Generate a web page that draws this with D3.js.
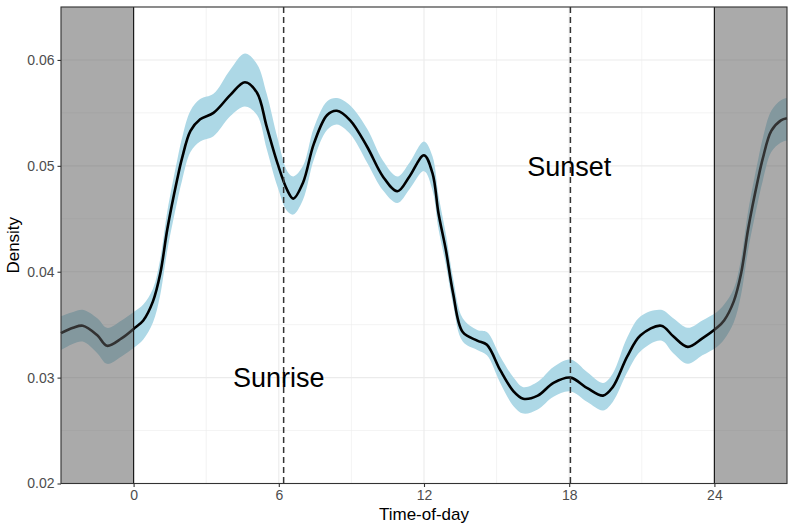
<!DOCTYPE html>
<html>
<head>
<meta charset="utf-8">
<script src="https://cdn.jsdelivr.net/npm/d3@7"></script>
<style>
  body { margin: 0; background: #fff; }
  svg { display: block; font-family: "Liberation Sans", Arial, sans-serif; }
</style>
</head>
<body>
<svg id="chart" width="794" height="526"></svg>
<script>
// values
var hours = [-3, -2.5, -2.1, -1.5, -1.1, -0.5, 0, 0.4, 0.8, 1.1, 1.4, 1.8, 2.0, 2.35, 2.75, 3.3, 4.0, 4.6, 5.1, 5.5,
  5.95, 6.35, 6.6, 7.0, 7.45, 8.0, 8.4, 8.95, 9.65, 10.3, 10.9, 11.4, 12.0, 12.35, 12.6, 12.9, 13.2, 13.6, 14.2, 14.6,
  15.15, 15.7, 16.1, 16.7, 17.35, 18.05, 18.75, 19.4, 19.8, 20.4, 20.95, 21.8, 22.3, 22.9, 23.5, 24.1, 24.4, 24.8, 25.1, 25.4,
  25.8, 26.0, 26.35, 26.75, 27.0];
var density = [0.0342, 0.0347, 0.0349, 0.0340, 0.0330, 0.0337, 0.0346, 0.0354, 0.0372, 0.0398, 0.0441, 0.0487, 0.0507, 0.0533, 0.0544, 0.0550, 0.0567, 0.0579, 0.0569, 0.0537,
  0.0502, 0.0477, 0.0469, 0.0484, 0.0521, 0.0548, 0.0552, 0.0543, 0.0518, 0.0490, 0.0476, 0.0490, 0.0510, 0.0493, 0.0455, 0.0421, 0.0380, 0.0343, 0.0335, 0.0331,
  0.0307, 0.0287, 0.0280, 0.0283, 0.0295, 0.0300, 0.0290, 0.0283, 0.0291, 0.0320, 0.0340, 0.0349, 0.0339, 0.0329, 0.0337, 0.0347, 0.0354, 0.0372, 0.0398, 0.0441,
  0.0487, 0.0507, 0.0533, 0.0543, 0.0545];
var lower = [0.0326, 0.0332, 0.0334, 0.0323, 0.0313, 0.0320, 0.0328, 0.0336, 0.0352, 0.0378, 0.0421, 0.0466, 0.0486, 0.0513, 0.0523, 0.0528, 0.0547, 0.0556, 0.0548, 0.0516,
  0.0480, 0.0457, 0.0454, 0.0468, 0.0506, 0.0534, 0.0539, 0.0530, 0.0503, 0.0477, 0.0465, 0.0478, 0.0495, 0.0477, 0.0440, 0.0407, 0.0369, 0.0334, 0.0326, 0.0321,
  0.0295, 0.0273, 0.0266, 0.0270, 0.0282, 0.0287, 0.0277, 0.0269, 0.0277, 0.0305, 0.0325, 0.0335, 0.0323, 0.0313, 0.0321, 0.0329, 0.0336, 0.0352, 0.0378, 0.0421,
  0.0466, 0.0486, 0.0513, 0.0522, 0.0524];
var upper = [0.0358, 0.0362, 0.0364, 0.0356, 0.0347, 0.0354, 0.0362, 0.0369, 0.0384, 0.0412, 0.0458, 0.0505, 0.0526, 0.0552, 0.0563, 0.0568, 0.0591, 0.0606, 0.0596, 0.0568,
  0.0526, 0.0495, 0.0490, 0.0500, 0.0536, 0.0561, 0.0564, 0.0557, 0.0535, 0.0505, 0.0490, 0.0503, 0.0523, 0.0509, 0.0472, 0.0436, 0.0394, 0.0356, 0.0345, 0.0343,
  0.0320, 0.0300, 0.0291, 0.0296, 0.0310, 0.0317, 0.0305, 0.0295, 0.0304, 0.0338, 0.0358, 0.0364, 0.0356, 0.0347, 0.0354, 0.0362, 0.0369, 0.0384, 0.0412, 0.0458,
  0.0505, 0.0526, 0.0552, 0.0562, 0.0564];

var xTicks = [0, 6, 12, 18, 24];
var xMinor = [-3, 3, 9, 15, 21, 27];
var yTicks = [0.02, 0.03, 0.04, 0.05, 0.06];
var yMinor = [0.025, 0.035, 0.045, 0.055, 0.065];
var nightBands = [[-3, 0], [24, 27]];
var dayEdges = [0, 24];
var sunLines = [6.2, 18.05];
var labels = [{ text: 'Sunrise', x: 6, y: 0.03 }, { text: 'Sunset', x: 18, y: 0.05 }];

(function () {
  var rows = hours.map(function (h, i) {
    return { h: h, d: density[i], lo: lower[i], hi: upper[i] };
  });

  var svg = d3.select('#chart');
  var pL = 61, pR = 787, pT = 7, pB = 483.5;

  var x = d3.scaleLinear().domain([-3, 27]).range([pL, pR]);
  var y = d3.scaleLinear().domain([0.02, 0.065]).range([pB, pT]);

  var panel = svg.append('g');

  // grid
  panel.selectAll('line.minor-x').data(xMinor).enter().append('line')
    .attr('x1', x).attr('x2', x).attr('y1', pT).attr('y2', pB)
    .attr('stroke', '#ebebeb').attr('stroke-width', 0.6);
  panel.selectAll('line.minor-y').data(yMinor).enter().append('line')
    .attr('x1', pL).attr('x2', pR).attr('y1', y).attr('y2', y)
    .attr('stroke', '#ebebeb').attr('stroke-width', 0.6);
  panel.selectAll('line.major-x').data(xTicks).enter().append('line')
    .attr('x1', x).attr('x2', x).attr('y1', pT).attr('y2', pB)
    .attr('stroke', '#ebebeb').attr('stroke-width', 1.1);
  panel.selectAll('line.major-y').data(yTicks).enter().append('line')
    .attr('x1', pL).attr('x2', pR).attr('y1', y).attr('y2', y)
    .attr('stroke', '#ebebeb').attr('stroke-width', 1.1);

  // ribbon + line
  var curve = d3.curveCatmullRom;
  panel.append('path').datum(rows)
    .attr('fill', '#add8e6')
    .attr('d', d3.area().curve(curve)
      .x(function (d) { return x(d.h); })
      .y0(function (d) { return y(d.lo); })
      .y1(function (d) { return y(d.hi); }));

  panel.append('path').datum(rows)
    .attr('fill', 'none').attr('stroke', '#000').attr('stroke-width', 2.6)
    .attr('d', d3.line().curve(curve)
      .x(function (d) { return x(d.h); })
      .y(function (d) { return y(d.d); }));

  // sunrise / sunset
  panel.selectAll('line.sun').data(sunLines).enter().append('line')
    .attr('x1', x).attr('x2', x).attr('y1', pT).attr('y2', pB)
    .attr('stroke', '#333').attr('stroke-width', 1.5).attr('stroke-dasharray', '6,4');

  // night shading on top
  panel.selectAll('rect.night').data(nightBands).enter().append('rect')
    .attr('x', function (d) { return x(d[0]); })
    .attr('width', function (d) { return x(d[1]) - x(d[0]); })
    .attr('y', pT).attr('height', pB - pT)
    .attr('fill', '#5f5f5f').attr('fill-opacity', 0.53);

  panel.selectAll('line.edge').data(dayEdges).enter().append('line')
    .attr('x1', x).attr('x2', x).attr('y1', pT).attr('y2', pB)
    .attr('stroke', '#1a1a1a').attr('stroke-width', 1.2);

  panel.selectAll('text.note').data(labels).enter().append('text')
    .attr('x', function (d) { return x(d.x); })
    .attr('y', function (d) { return y(d.y); })
    .attr('dy', '0.36em').attr('text-anchor', 'middle')
    .attr('font-size', 27).attr('fill', '#000')
    .text(function (d) { return d.text; });

  // border
  svg.append('rect').attr('x', pL).attr('y', pT)
    .attr('width', pR - pL).attr('height', pB - pT)
    .attr('fill', 'none').attr('stroke', '#333').attr('stroke-width', 1.1);

  // axes
  var xAxis = svg.append('g').attr('transform', 'translate(0,' + pB + ')')
    .call(d3.axisBottom(x).tickValues(xTicks).tickSize(3.5).tickPadding(3).tickFormat(d3.format('d')));
  var yAxis = svg.append('g').attr('transform', 'translate(' + pL + ',0)')
    .call(d3.axisLeft(y).tickValues(yTicks).tickSize(3.5).tickPadding(3).tickFormat(d3.format('.2f')));
  [xAxis, yAxis].forEach(function (g) {
    g.select('.domain').remove();
    g.selectAll('.tick line').attr('stroke', '#333').attr('stroke-width', 1.1);
    g.selectAll('.tick text').attr('fill', '#4d4d4d').attr('font-size', 14)
      .attr('font-family', '"Liberation Sans", Arial, sans-serif');
  });

  svg.append('text').attr('x', (pL + pR) / 2).attr('y', 520)
    .attr('text-anchor', 'middle').attr('font-size', 17).attr('fill', '#000')
    .text('Time-of-day');
  svg.append('text').attr('transform', 'translate(19,' + ((pT + pB) / 2) + ') rotate(-90)')
    .attr('text-anchor', 'middle').attr('font-size', 17).attr('fill', '#000')
    .text('Density');
})();
</script>
</body>
</html>
